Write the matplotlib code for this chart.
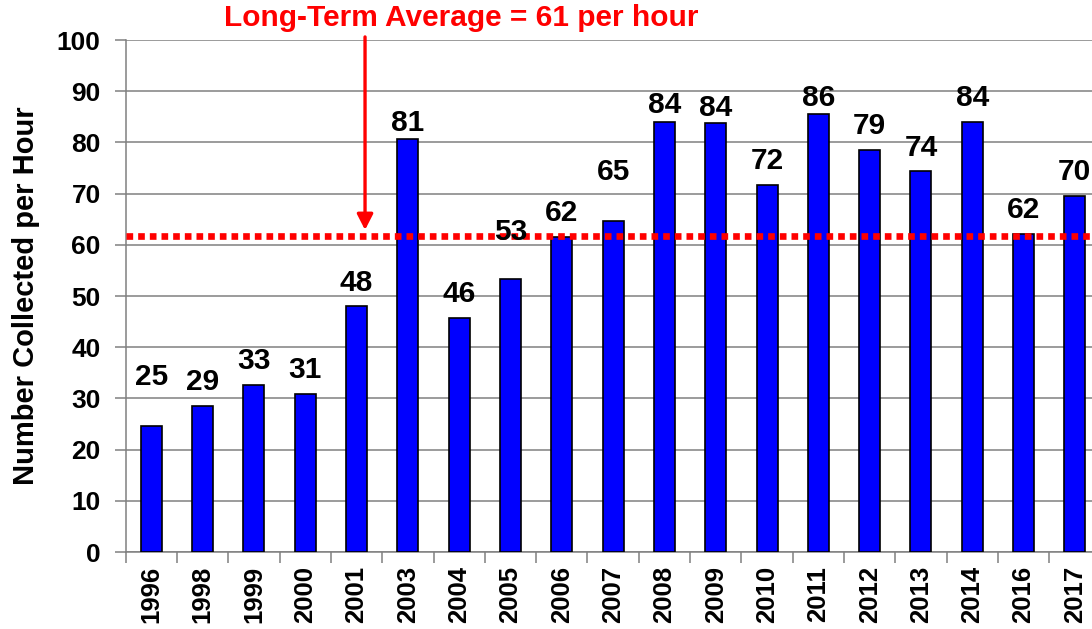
import matplotlib
matplotlib.use('Agg')
import matplotlib.pyplot as plt
import numpy as np

# Data
years = ['1996', '1998', '1999', '2000', '2001', '2003', '2004', '2005', '2006', '2007',
         '2008', '2009', '2010', '2011', '2012', '2013', '2014', '2016', '2017']
collected = [24.6, 28.6, 32.7, 30.9, 48.0, 80.6, 45.8, 53.4, 61.6, 64.7,
             83.9, 83.7, 71.7, 85.5, 78.6, 74.4, 84.0, 62.2, 69.6]
long_term_avg = 61.7
avg_text = 'Long-Term Average = 61 per hour'

plt.rcParams['font.family'] = ['Liberation Sans', 'DejaVu Sans']
plt.rcParams['font.weight'] = 'bold'

fig = plt.figure(figsize=(10.92, 6.29), dpi=100)
ax = fig.add_axes([0.1151, 0.1224, 0.8927, 0.8140])

x = np.arange(len(years))
ax.bar(x, collected, width=0.41, color='#0000FF', edgecolor='black', linewidth=1.2, zorder=3)

# value labels above bars (a few sit higher/lower like in the original)
label_gap = {0: 9.5, 5: 3.2, 7: 9.1, 9: 9.5, 10: 3.4, 11: 3.0, 13: 3.2}
for i, v in enumerate(collected):
    ax.text(i, v + label_gap.get(i, 4.6), f'{v:.0f}', ha='center', va='center',
            fontsize=21.5, fontweight='bold', zorder=5)

# long-term average line
ax.axhline(long_term_avg, color='#FF0000', linewidth=4.8, linestyle=(0, (1, 0.75)),
           dash_capstyle='butt', zorder=4)

ax.set_xlim(-0.5, len(years) - 0.5)
ax.set_ylim(0, 100)
ax.set_yticks(np.arange(0, 101, 10))
ax.grid(axis='y', color='#808080', linewidth=1.1, zorder=0)
ax.set_axisbelow(True)

ax.set_xticks(x)
ax.set_xticklabels(years, rotation=90, fontsize=18.5, fontweight='bold')
ax.set_xticks(np.arange(-0.5, len(years)), minor=True)
ax.tick_params(axis='x', which='major', length=0, pad=10)
ax.tick_params(axis='x', which='minor', length=8, color='#808080', width=1.1)
ax.tick_params(axis='y', length=8, color='#808080', width=1.1, pad=10, labelsize=19)
for lab in ax.get_yticklabels():
    lab.set_fontweight('bold')

for s in ['top', 'right']:
    ax.spines[s].set_visible(False)
for s in ['left', 'bottom']:
    ax.spines[s].set_color('#808080')
    ax.spines[s].set_linewidth(1.1)

ax.set_ylabel('Number Collected per Hour', fontsize=21, fontweight='bold', labelpad=12)

# title text and arrow pointing to the average line
fig.text(0.422, 0.971, avg_text, color='#FF0000', fontsize=21.5, fontweight='bold',
         ha='center', va='center')
ax.annotate('', xy=(4.165, 62.9), xytext=(4.165, 100.6), annotation_clip=False,
            arrowprops=dict(arrowstyle='-|>,head_length=0.47,head_width=0.24',
                            mutation_scale=20, color='#FF0000', linewidth=2.4,
                            shrinkA=0, shrinkB=0))

fig.savefig('out.png', dpi=100)
